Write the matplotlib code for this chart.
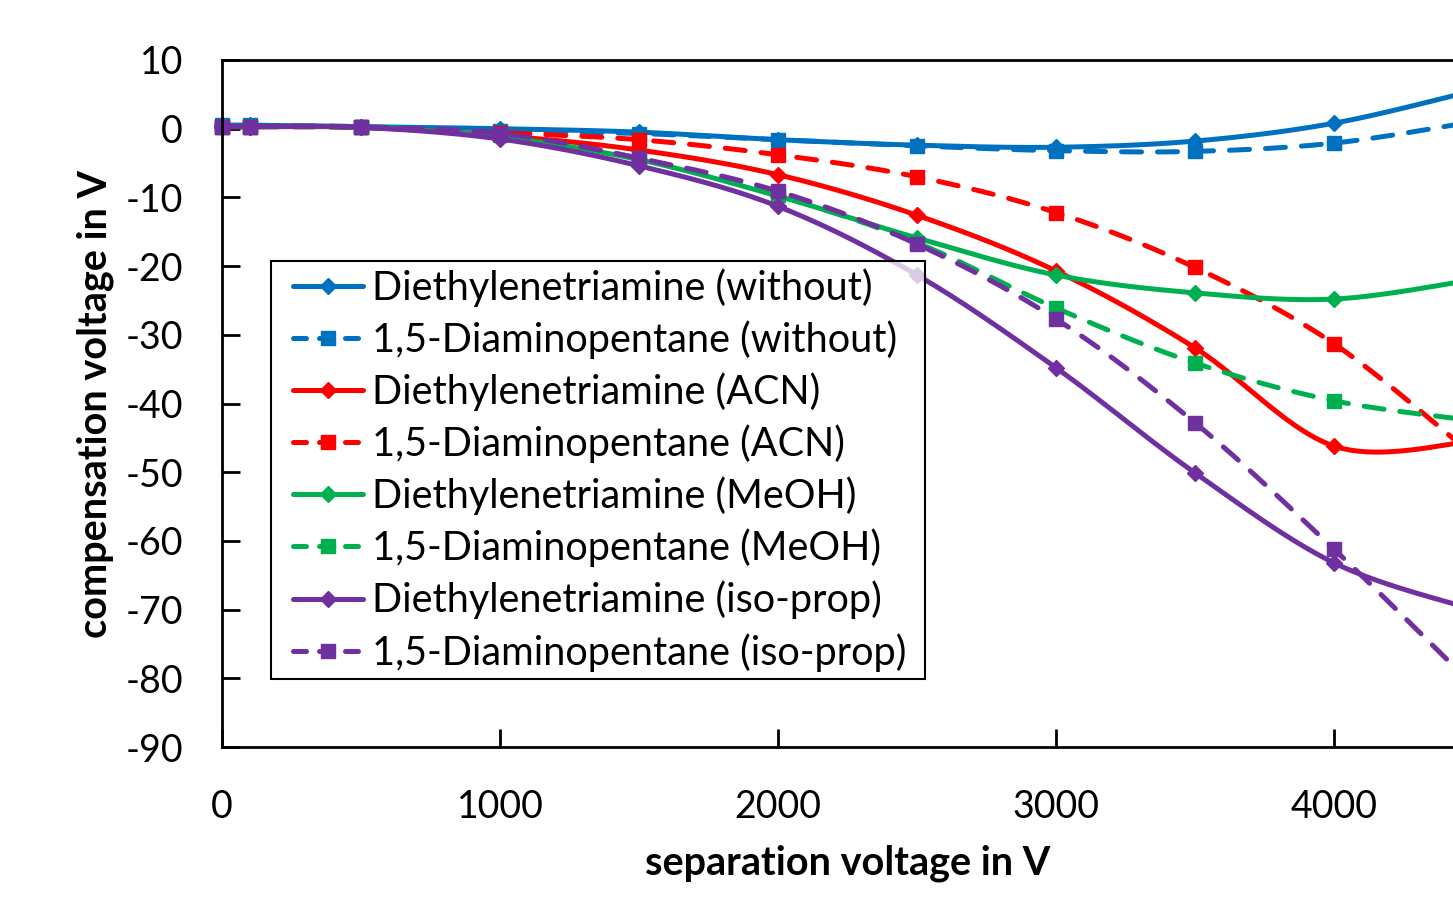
import numpy as np
import matplotlib
matplotlib.use("Agg")
import matplotlib.pyplot as plt
from matplotlib.lines import Line2D
from matplotlib.legend_handler import HandlerLine2D

plt.rcParams['font.family'] = ['Lato', 'DejaVu Sans']
plt.rcParams['axes.unicode_minus'] = False

sep_voltage = [0, 100, 500, 1000, 1500, 2000, 2500, 3000, 3500, 4000, 4500]

det_without = [0.5, 0.5, 0.3, 0.0, -0.5, -1.6, -2.4, -2.7, -1.8, 0.8, 5.5]
dap_without = [0.5, 0.5, 0.3, -0.3, -0.7, -1.6, -2.5, -3.2, -3.3, -2.1, 1.0]
det_acn = [0.3, 0.3, 0.2, -1.0, -3.1, -6.7, -12.6, -20.7, -31.9, -46.2, -45.5]
dap_acn = [0.3, 0.3, 0.2, -0.6, -1.6, -3.8, -7.0, -12.2, -20.2, -31.3, -47.5]
det_meoh = [0.3, 0.3, 0.2, -1.2, -4.5, -9.8, -15.9, -21.3, -23.9, -24.8, -22.0]
dap_meoh = [0.3, 0.3, 0.2, -0.9, -4.3, -9.7, -16.6, -26.1, -34.1, -39.6, -42.5]
det_iso = [0.3, 0.3, 0.2, -1.5, -5.4, -11.3, -21.3, -34.8, -50.1, -63.2, -70.0]
dap_iso = [0.3, 0.3, 0.2, -0.7, -4.3, -9.1, -16.8, -27.7, -42.8, -61.2, -81.0]

series = [
    ("Diethylenetriamine (without)", det_without, "#0070C0", "-", "D"),
    ("1,5-Diaminopentane (without)", dap_without, "#0070C0", "--", "s"),
    ("Diethylenetriamine (ACN)", det_acn, "#FF0000", "-", "D"),
    ("1,5-Diaminopentane (ACN)", dap_acn, "#FF0000", "--", "s"),
    ("Diethylenetriamine (MeOH)", det_meoh, "#00B050", "-", "D"),
    ("1,5-Diaminopentane (MeOH)", dap_meoh, "#00B050", "--", "s"),
    ("Diethylenetriamine (iso-prop)", det_iso, "#7030A0", "-", "D"),
    ("1,5-Diaminopentane (iso-prop)", dap_iso, "#7030A0", "--", "s"),
]


def smooth(x, y, n=30):
    # excel style smoothed line: bezier segments with catmull-rom controls
    p = np.column_stack([x, y]).astype(float)
    p = np.vstack([p[0], p, p[-1]])
    t = np.linspace(0, 1, n)[:, None]
    out = []
    for i in range(1, len(p) - 2):
        p0, p1, p2, p3 = p[i - 1], p[i], p[i + 1], p[i + 2]
        c1 = p1 + (p2 - p0) / 6
        c2 = p2 - (p3 - p1) / 6
        seg = ((1 - t) ** 3) * p1 + 3 * ((1 - t) ** 2) * t * c1 \
            + 3 * (1 - t) * t ** 2 * c2 + t ** 3 * p2
        out.append(seg)
    out = np.vstack(out)
    return out[:, 0], out[:, 1]


class ShiftedLine(HandlerLine2D):
    # leave some blank room left of the legend sample line
    def __init__(self, shift, **kw):
        super().__init__(**kw)
        self.shift = shift

    def create_artists(self, legend, orig_handle, xdescent, ydescent,
                       width, height, fontsize, trans):
        s = self.shift * fontsize
        return super().create_artists(legend, orig_handle, xdescent - s, ydescent,
                                      width - s, height, fontsize, trans)


fig = plt.figure(figsize=(14.53, 9.05), dpi=100)
ax = fig.add_axes([222 / 1453, 158 / 905, 1251 / 1453, 687 / 905])

LW = 3.6
dash = (4.0, 3.2)
handles = []
for label, vals, color, ls, mk in series:
    sx, sy = smooth(sep_voltage, vals)
    line, = ax.plot(sx, sy, color=color, lw=LW, solid_capstyle='round')
    if ls == "--":
        line.set_dashes(dash)
        line.set_dash_capstyle('round')
    ms = 8 if mk == "D" else 10.5
    ax.plot(sep_voltage, vals, ls='none', marker=mk, ms=ms, color=color, clip_on=False)
    h = Line2D([], [], color=color, lw=LW, marker=mk, ms=ms,
               solid_capstyle='round', dash_capstyle='round')
    if ls == "--":
        h.set_dashes((2.6, 2.6))
    handles.append(h)

ax.set_xlim(0, 4500)
ax.set_ylim(-90, 10)
ax.set_xticks(range(0, 4001, 1000))
ax.set_yticks(range(-90, 11, 10))
ax.tick_params(direction='in', length=13, width=2, labelsize=27)
ax.tick_params(axis='x', pad=30)
ax.tick_params(axis='y', pad=28)
for s in ax.spines.values():
    s.set_linewidth(2)

ax.set_xlabel("separation voltage in V", fontsize=28.5, fontweight='bold', labelpad=14)
ax.set_ylabel("compensation voltage in V", fontsize=28.5, fontweight='bold', labelpad=8)

fs = 28.5
leg = ax.legend(handles, [s[0] for s in series], loc='upper left',
                bbox_to_anchor=(271 / 1453, 219 / 905, 654 / 1453, 425 / 905),
                bbox_transform=fig.transFigure, mode='expand',
                fontsize=fs, frameon=True, fancybox=False,
                handlelength=85 / 1.389 / fs, handletextpad=9 / 1.389 / fs,
                labelspacing=0.34, borderpad=0.18, borderaxespad=0,
                handler_map={Line2D: ShiftedLine(15 / 1.389 / fs)})
frame = leg.get_frame()
frame.set_alpha(None)
frame.set_facecolor((1, 1, 1, 0.75))
frame.set_edgecolor('black')
frame.set_linewidth(1.5)

fig.savefig("out.png", dpi=100)
